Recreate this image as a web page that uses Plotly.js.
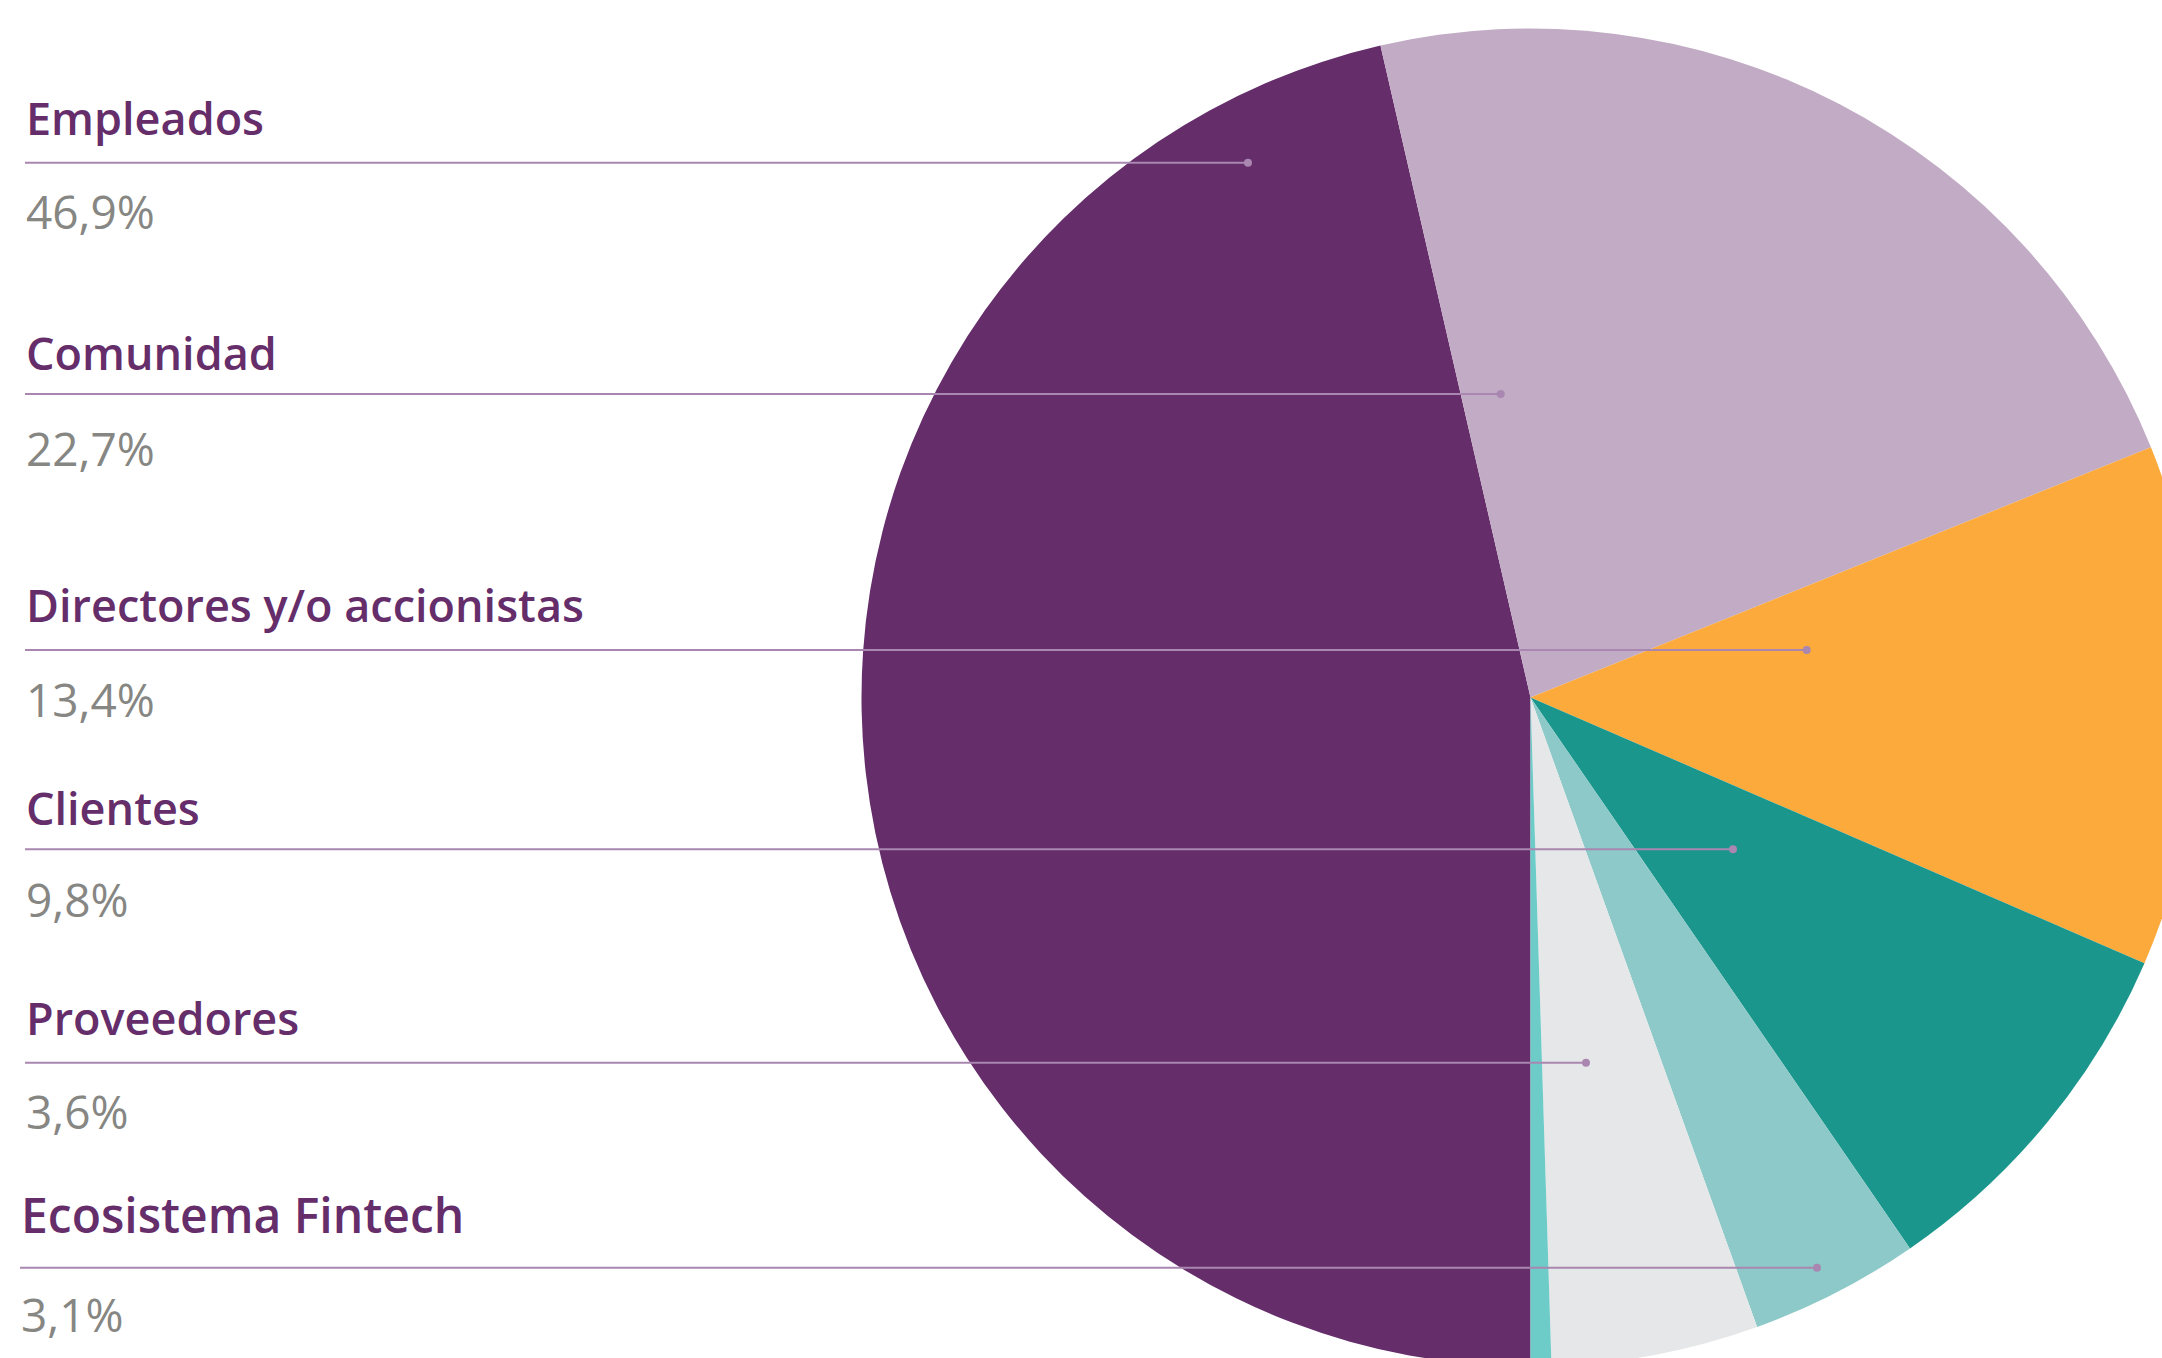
<!DOCTYPE html>
<html>
<head>
<meta charset="utf-8">
<script src="https://cdn.plot.ly/plotly-3.0.1.min.js"></script>
<style>
  html, body { margin: 0; padding: 0; background: #ffffff; overflow: hidden; }
  #chart { width: 2300px; height: 1460px; }
</style>
</head>
<body>
<div id="chart"></div>
<script>
// ---- Data ----
const sliceLabels = ['Empleados', 'Comunidad', 'Directores y/o accionistas', 'Clientes', 'Ecosistema Fintech', 'Proveedores', 'Otros'];
const sliceValues = [46.4, 22.5, 12.6, 8.9, 4.1, 5.0, 0.5];   // shares as drawn in the pie
const sliceColors = ['#652d6a', '#c2abc5', '#fbaa3b', '#1b968d', '#8cc9c8', '#e6e7e8', '#6dcbc8'];

const legendNames = ['Empleados', 'Comunidad', 'Directores y/o accionistas', 'Clientes', 'Proveedores', 'Ecosistema Fintech'];
const legendPcts  = ['46,9%', '22,7%', '13,4%', '9,8%', '3,6%', '3,1%'];

// ---- Layout helpers (pixel -> paper) ----
const W = 2300, H = 1460;
const fx = x => x / W;
const fy = y => 1 - y / H;

// pie geometry in pixels
const cx = 1530.5, cy = 697.5, R = 669;

// row layout (pixels): label cap-centre, rule line, percentage cap-centre, dot x, left x, font sizes
const rows = [
  { ty: 117,  ly: 162.7, py: 211,  dx: 1248,   lx: 25, tx: 24, ts: 45, ps: 46 },
  { ty: 352,  ly: 394,   py: 448,  dx: 1500.7, lx: 25, tx: 24, ts: 45, ps: 46 },
  { ty: 604,  ly: 650,   py: 699,  dx: 1806.7, lx: 25, tx: 24, ts: 45, ps: 46 },
  { ty: 807,  ly: 849.3, py: 899,  dx: 1733,   lx: 25, tx: 24, ts: 45, ps: 46 },
  { ty: 1017, ly: 1062.7,py: 1111, dx: 1586,   lx: 25, tx: 24, ts: 45, ps: 46 },
  { ty: 1214, ly: 1267.8,py: 1314, dx: 1817,   lx: 20, tx: 19, ts: 48, ps: 46 }
];

const annotations = [];
const shapes = [];
const lineColor = '#a987b0';
rows.forEach((r, i) => {
  annotations.push({
    text: legendNames[i], x: fx(r.tx), y: fy(r.ty), xref: 'paper', yref: 'paper',
    xanchor: 'left', yanchor: 'middle', showarrow: false,
    font: { family: 'Open Sans', size: r.ts, weight: 600, color: '#652d6a' }
  });
  annotations.push({
    text: legendPcts[i], x: fx(r.tx), y: fy(r.py), xref: 'paper', yref: 'paper',
    xanchor: 'left', yanchor: 'middle', showarrow: false,
    font: { family: 'Open Sans', size: r.ps, weight: 400, color: '#868683' }
  });
  shapes.push({
    type: 'line', xref: 'paper', yref: 'paper', layer: 'above',
    x0: fx(r.lx), x1: fx(r.dx), y0: fy(r.ly), y1: fy(r.ly),
    line: { color: lineColor, width: 2 }
  });
  const rd = 4;
  shapes.push({
    type: 'circle', xref: 'paper', yref: 'paper', layer: 'above',
    x0: fx(r.dx - rd), x1: fx(r.dx + rd), y0: fy(r.ly + rd), y1: fy(r.ly - rd),
    fillcolor: lineColor, line: { width: 0 }
  });
});

const trace = {
  type: 'pie',
  labels: sliceLabels,
  values: sliceValues,
  sort: false,
  direction: 'clockwise',
  rotation: 180,
  textinfo: 'none',
  hoverinfo: 'label+percent',
  marker: { colors: sliceColors, line: { width: 0 } },
  domain: { x: [fx(cx - R), fx(cx + R)], y: [fy(cy + R), fy(cy - R)] },
  showlegend: false
};

const layout = {
  width: W, height: H,
  margin: { l: 0, r: 0, t: 0, b: 0, pad: 0 },
  paper_bgcolor: '#ffffff',
  plot_bgcolor: '#ffffff',
  showlegend: false,
  annotations: annotations,
  shapes: shapes
};

Plotly.newPlot('chart', [trace], layout, { displayModeBar: false, staticPlot: true });
</script>
</body>
</html>
